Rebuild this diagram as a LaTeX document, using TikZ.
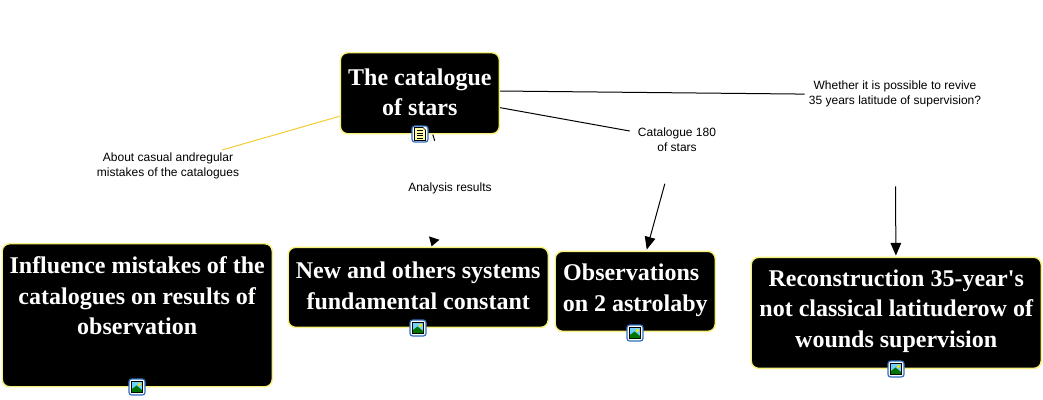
\documentclass[tikz,border=0pt]{standalone}
\usepackage{fontspec}
\setmainfont{Liberation Serif}
\newfontfamily\conceptfont{Liberation Serif}
\newfontfamily\labelfont{Liberation Sans}
\usetikzlibrary{arrows.meta,backgrounds}
\definecolor{boxedge}{HTML}{F6F07C}
\definecolor{goldline}{HTML}{F2CC30}
\definecolor{iconblue}{HTML}{2F6FC0}
\tikzset{
  x=0.75pt,y=-0.75pt,
  concept/.style={draw=boxedge,fill=black,line width=1.1pt,rounded corners=5.5pt,text=white,
    font=\conceptfont\fontsize{18}{22.8}\selectfont\bfseries,align=center,inner sep=0pt,anchor=north west},
  linker/.style={font=\labelfont\fontsize{9}{11.25}\selectfont,align=center,inner sep=0pt,text=black},
  link/.style={line width=0.75pt,draw=black},
  arrowlink/.style={link,-{Triangle[length=9.5pt,width=8pt]},shorten >=0.8pt},
  shortarrow/.style={link,-{Triangle[length=6.5pt,width=8pt]},shorten >=0.2pt},
  iconframe/.style={draw=iconblue,fill=white,line width=0.9pt,rounded corners=2pt},
  imgicon/.pic={
    \draw[iconframe] (-8,-8) rectangle (8,8);
    \draw[black,fill=white,line width=.4pt] (-5.5,-5.5) rectangle (5.5,5.5);
    \fill[white!70!blue!60!cyan] (-5,-5) rectangle (5,5);
    \fill[green!45!black] (-5,5) -- (-5,2) -- (-0.5,-1.5) -- (5,3) -- (5,5) -- cycle;
    \fill[yellow!85!orange] (2.4,-2.6) circle (1.8);
  },
  docicon/.pic={
    \draw[iconframe] (-8,-8) rectangle (8,8);
    \draw[black,fill=yellow!35!white,line width=.5pt] (-5.5,-6.5) -- (3,-6.5) -- (5.5,-4) -- (5.5,6.5) -- (-5.5,6.5) -- cycle;
    \foreach \ty in {-3.2,-0.8,1.6,4}{\draw[black,line width=.6pt] (-3.3,\ty) -- (3.3,\ty);}
  }
}
\begin{document}
\begin{tikzpicture}
\useasboundingbox (0,0) rectangle (1043,400);
\node[concept,minimum width=119.25pt,minimum height=60.75pt] (top) at (339.6,52) {\raisebox{-0.7pt}[\height][\depth]{\begin{tabular}{@{}c@{}}The catalogue\\of stars\end{tabular}}};
\node[concept,minimum width=202.5pt,minimum height=107.25pt] (infl) at (1.5,243) {Influence mistakes of the\\catalogues on results of\\observation\\[6.25pt]\mbox{}};
\node[concept,minimum width=195pt,minimum height=60pt] (newsys) at (287.5,246.6) {\raisebox{-0.4pt}[\height][\depth]{\begin{tabular}{@{}c@{}}New and others systems\\fundamental constant\end{tabular}}};
\node[concept,minimum width=120pt,minimum height=60pt] (obs) at (554.5,250.6) {\raisebox{1.1pt}[\height][\depth]{\begin{tabular}{@{}c@{}}Observations\hspace{6pt}\mbox{}\\on 2 astrolaby\end{tabular}}};
\node[concept,minimum width=217.5pt,minimum height=83.25pt] (recon) at (750.5,256.6) {\raisebox{1.6pt}[\height][\depth]{\begin{tabular}{@{}c@{}}Reconstruction 35-year's\\not classical latituderow of\\wounds supervision\end{tabular}}};

\node[linker,minimum width=118.5pt,minimum height=23pt] (about) at (168,165.5) {About casual andregular\\mistakes of the catalogues};
\node[linker,minimum width=60pt,minimum height=72.75pt] (analysis) at (450,189.5) {\raisebox{1.2pt}[\height][\depth]{Analysis results}};
\node[linker,minimum width=70.5pt,minimum height=66pt] (cat) at (677,139.5) {Catalogue 180\\of stars};
\node[linker,minimum width=135pt,minimum height=136.5pt] (whether) at (895,95) {\raisebox{0.7pt}[\height][\depth]{\parbox{135pt}{\centering Whether it is possible to revive\\35 years latitude of supervision?}}};
\coordinate (topw) at (419.5,90.2);

\begin{scope}[on background layer]
\draw[link,draw=goldline] (top) -- (about);
\draw[link] (top) -- (analysis);
\draw[link] (top) -- (cat);
\draw[link] (topw) -- (whether);
\draw[shortarrow] (analysis) -- (newsys);
\draw[arrowlink] (cat) -- (obs);
\draw[arrowlink] (whether) -- (recon);
\end{scope}

\pic at (420,134) {docicon};
\pic at (137,387) {imgicon};
\pic at (418,328) {imgicon};
\pic at (635,333) {imgicon};
\pic at (896,369) {imgicon};
\end{tikzpicture}
\end{document}
